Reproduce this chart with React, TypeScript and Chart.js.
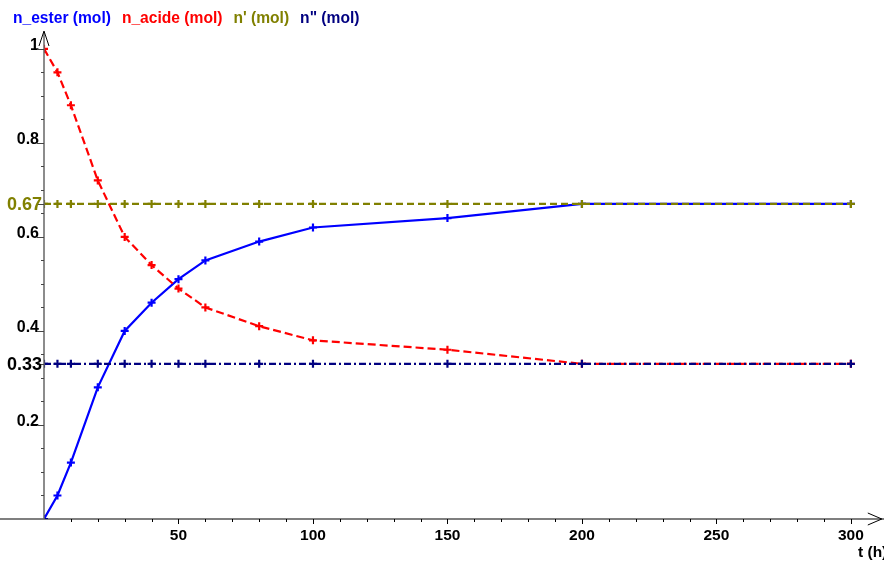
import React, { useEffect, useRef } from "react";
import { Chart, registerables } from "chart.js";
Chart.register(...registerables);

// ---- data ----
const times = [0, 5, 10, 20, 30, 40, 50, 60, 80, 100, 150, 200, 300];
const nEster = [0, 0.05, 0.12, 0.28, 0.4, 0.46, 0.51, 0.55, 0.59, 0.62, 0.64, 0.67, 0.67];
const nAcide = [1, 0.95, 0.88, 0.72, 0.6, 0.54, 0.49, 0.45, 0.41, 0.38, 0.36, 0.33, 0.33];
const nPrime = [0.67, 0.67, 0.67, 0.67, 0.67, 0.67, 0.67, 0.67, 0.67, 0.67, 0.67, 0.67, 0.67];
const nSecond = [0.33, 0.33, 0.33, 0.33, 0.33, 0.33, 0.33, 0.33, 0.33, 0.33, 0.33, 0.33, 0.33];
const seriesNames = ["n_ester (mol)", "n_acide (mol)", "n' (mol)", 'n" (mol)'];
const xLabelValues = [50, 100, 150, 200, 250, 300];
const yLabelValues = [0.2, 0.4, 0.6, 0.8, 1];
const markedLevels = [0.67, 0.33];
const markedLabels = ["0.67", "0.33"];
const xAxisTitle = "t (h)";

// ---- styles ----
const colors = ["#0000ff", "#ff0000", "#808000", "#000080"];
const dashes = [[], [8, 4], [7, 4], [7, 3, 2, 3]];
const markedColors = ["#808000", "#000000"];
const FONT = "'Liberation Sans', Arial, sans-serif";

const toPoints = (ys: number[]) => times.map((t, i) => ({ x: t, y: ys[i] }));
const near = (a: number, b: number) => Math.abs(a - b) < 1e-6;

const decorPlugin = {
  id: "decor",
  afterDraw(chart: any) {
    const ctx = chart.ctx as CanvasRenderingContext2D;
    const xs = chart.scales.x;
    const ys = chart.scales.y;
    const x0 = xs.getPixelForValue(0);
    const y0 = ys.getPixelForValue(0);
    const area = chart.chartArea;
    ctx.save();

    // x axis line + arrow
    ctx.strokeStyle = "#000";
    ctx.lineWidth = 1.2;
    ctx.beginPath();
    ctx.moveTo(0, y0);
    ctx.lineTo(chart.width, y0);
    ctx.stroke();
    ctx.lineWidth = 1;
    ctx.beginPath();
    ctx.moveTo(area.right - 10, y0 - 6);
    ctx.lineTo(area.right + 4, y0);
    ctx.lineTo(area.right - 10, y0 + 6);
    ctx.stroke();

    // x ticks
    ctx.lineWidth = 1;
    for (const t of xs.ticks) {
      const v = t.value;
      if (v <= 0 || v > 300) continue;
      const px = Math.round(xs.getPixelForValue(v)) + 0.5;
      const len = near(v % 50, 0) ? 5 : 3;
      ctx.beginPath();
      ctx.moveTo(px, y0);
      ctx.lineTo(px, y0 + len);
      ctx.stroke();
    }

    // y axis line + arrow
    ctx.strokeStyle = "#666";
    ctx.lineWidth = 1.5;
    ctx.beginPath();
    ctx.moveTo(x0, y0);
    ctx.lineTo(x0, area.top + 2);
    ctx.stroke();
    ctx.strokeStyle = "#000";
    ctx.lineWidth = 1;
    ctx.beginPath();
    ctx.moveTo(x0 - 5, area.top + 16);
    ctx.lineTo(x0, area.top + 1);
    ctx.lineTo(x0 + 5, area.top + 16);
    ctx.stroke();

    // y ticks
    ctx.strokeStyle = "#444";
    for (const t of ys.ticks) {
      const v = t.value;
      if (v <= 0 || v > 1.0001) continue;
      const py = Math.round(ys.getPixelForValue(v)) + 0.5;
      const major = yLabelValues.some((l) => near(l, v));
      const len = major ? 7 : 3;
      ctx.beginPath();
      ctx.moveTo(x0 - len, py);
      ctx.lineTo(x0, py);
      ctx.stroke();
    }
    markedLevels.forEach((lv) => {
      const py = Math.round(ys.getPixelForValue(lv)) + 0.5;
      ctx.beginPath();
      ctx.moveTo(x0 - 7, py);
      ctx.lineTo(x0, py);
      ctx.stroke();
    });

    // marked level labels
    ctx.font = `bold 18px ${FONT}`;
    ctx.textAlign = "right";
    ctx.textBaseline = "middle";
    markedLevels.forEach((lv, i) => {
      ctx.fillStyle = markedColors[i];
      ctx.fillText(markedLabels[i], x0 - 2, ys.getPixelForValue(lv) + 1);
    });

    // x axis title
    ctx.font = `bold 15.5px ${FONT}`;
    ctx.fillStyle = "#000";
    ctx.textAlign = "left";
    ctx.textBaseline = "alphabetic";
    ctx.fillText(xAxisTitle, 858, 557);

    // legend
    ctx.font = `bold 15.6px ${FONT}`;
    let lx = 13;
    seriesNames.forEach((name, i) => {
      ctx.fillStyle = colors[i];
      ctx.fillText(name, lx, 23);
      lx += ctx.measureText(name).width + 11;
    });

    ctx.restore();
  },
};

export default function App() {
  const ref = useRef<HTMLCanvasElement | null>(null);
  useEffect(() => {
    if (!ref.current) return;
    const all = [nEster, nAcide, nPrime, nSecond];
    const chart = new Chart(ref.current, {
      type: "line",
      data: {
        datasets: all.map((arr, i) => ({
          label: seriesNames[i],
          data: toPoints(arr),
          borderColor: colors[i],
          backgroundColor: colors[i],
          borderWidth: 2.2,
          borderDash: dashes[i],
          pointStyle: "cross",
          pointRadius: 4,
          pointBorderWidth: 2.2,
          pointBorderColor: colors[i],
          pointHoverRadius: 4,
          tension: 0,
          fill: false,
          order: 4 - i,
        })),
      },
      options: {
        responsive: false,
        animation: false,
        events: [],
        layout: { padding: { top: 30, right: 2, left: 0, bottom: 0 } },
        plugins: { legend: { display: false }, tooltip: { enabled: false } },
        scales: {
          x: {
            type: "linear",
            min: 0,
            max: 310,
            grid: { display: false },
            border: { display: false },
            afterFit: (s: any) => {
              s.height = 43;
            },
            ticks: {
              stepSize: 10,
              autoSkip: false,
              maxRotation: 0,
              padding: -1,
              color: "#000",
              font: { family: FONT, size: 15.5, weight: "bold" },
              callback: (v: any) => (xLabelValues.some((l) => near(l, Number(v))) ? String(v) : ""),
            },
          },
          y: {
            type: "linear",
            min: 0,
            max: 1.04,
            grid: { display: false },
            border: { display: false },
            afterFit: (s: any) => {
              s.width = 44;
            },
            ticks: {
              stepSize: 0.05,
              autoSkip: false,
              padding: -3,
              labelOffset: -3,
              color: "#000",
              font: { family: FONT, size: 16, weight: "bold" },
              callback: (v: any) => {
                const n = Number(v);
                const hit = yLabelValues.find((l) => near(l, n));
                return hit !== undefined ? String(hit) : "";
              },
            },
          },
        },
      },
      plugins: [decorPlugin],
    } as any);
    return () => chart.destroy();
  }, []);
  return (
    <div style={{ position: "fixed", left: 0, top: 0, width: 884, height: 562, background: "#fff" }}>
      <canvas ref={ref} width={884} height={562} style={{ display: "block" }} />
    </div>
  );
}
